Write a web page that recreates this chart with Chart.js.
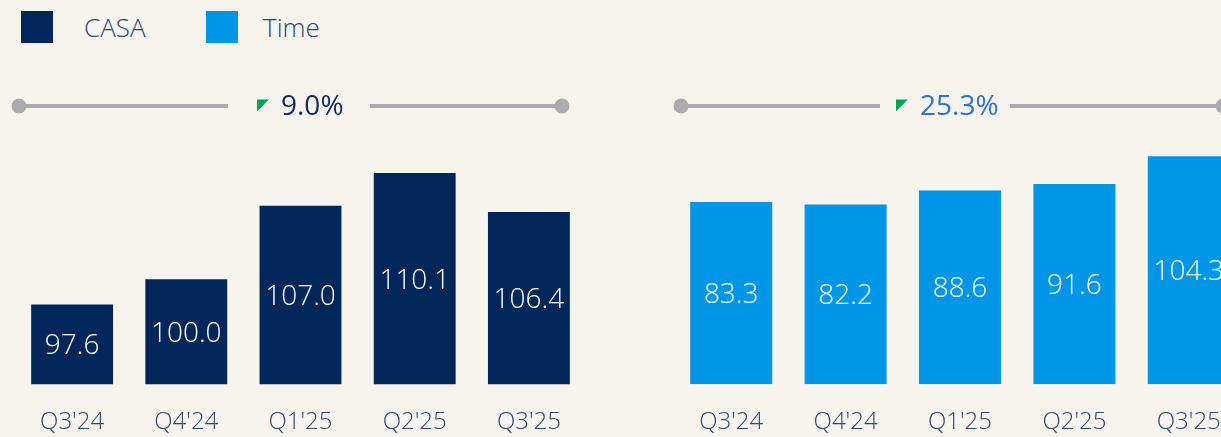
<!DOCTYPE html>
<html>
<head>
<meta charset="utf-8">
<script src="https://cdn.jsdelivr.net/npm/chart.js@4"></script>
<style>
  html, body { margin: 0; padding: 0; background: #f7f4ee; overflow: hidden; }
  body { width: 1221px; height: 437px; position: relative; font-family: "Open Sans", sans-serif; }
  .box { position: absolute; top: 11px; width: 32px; height: 32px; }
  .txt { position: absolute; top: 9px; font-size: 26px; font-weight: 300; color: #2c4a74; line-height: 36px; }
  .wrap { position: absolute; top: 0; width: 600px; height: 462px; }
</style>
</head>
<body>
<span class="box" style="left:21px;background:#01265a"></span><span class="txt" style="left:84px">CASA</span>
<span class="box" style="left:206px;background:#0096e8"></span><span class="txt" style="left:263px">Time</span>
<div class="wrap" style="left:0"><canvas id="casaChart" width="600" height="462"></canvas></div>
<div class="wrap" style="left:660px"><canvas id="timeChart" width="600" height="462"></canvas></div>
<script>
var quarters = ["Q3'24", "Q4'24", "Q1'25", "Q2'25", "Q3'25"];
var casaValues = [97.6, 100.0, 107.0, 110.1, 106.4];
var timeValues = [83.3, 82.2, 88.6, 91.6, 104.3];
var growthLabels = ['9.0%', '25.3%'];

// white value labels in the middle of each bar
var barValues = {
  id: 'barValues',
  afterDatasetsDraw: function(chart) {
    var ctx = chart.ctx;
    var meta = chart.getDatasetMeta(0);
    var bottom = chart.chartArea.bottom;
    ctx.save();
    ctx.fillStyle = '#ffffff';
    ctx.font = '300 28px "Open Sans"';
    ctx.textAlign = 'center';
    ctx.textBaseline = 'middle';
    meta.data.forEach(function(bar, i) {
      var v = chart.data.datasets[0].data[i];
      var base = Math.min(bar.base, bottom);
      ctx.fillText(v.toFixed(1), bar.x, (bar.y + base) / 2 + 2);
    });
    ctx.restore();
  }
};

// grey growth line with a label in the gap
var growthLine = {
  id: 'growthLine',
  afterDraw: function(chart, args, opts) {
    var ctx = chart.ctx;
    var y = 106;
    ctx.save();
    ctx.strokeStyle = '#ababab';
    ctx.fillStyle = '#ababab';
    ctx.lineWidth = 4;
    ctx.beginPath();
    ctx.moveTo(opts.x1, y); ctx.lineTo(opts.gap1, y);
    ctx.moveTo(opts.gap2, y); ctx.lineTo(opts.x2, y);
    ctx.stroke();
    [opts.x1, opts.x2].forEach(function(x) {
      ctx.beginPath();
      ctx.arc(x, y, 7.5, 0, Math.PI * 2);
      ctx.fill();
    });
    // green arrow corner
    var tx = opts.tri;
    ctx.fillStyle = '#00a651';
    ctx.beginPath();
    ctx.moveTo(tx, 99.5); ctx.lineTo(tx + 12, 99.5); ctx.lineTo(tx, 111.5);
    ctx.closePath();
    ctx.fill();
    ctx.fillStyle = opts.color;
    ctx.font = '28px "Open Sans"';
    ctx.textAlign = 'left';
    ctx.textBaseline = 'middle';
    ctx.fillText(opts.text, tx + 24, y + 1);
    ctx.restore();
  }
};

function makeChart(id, values, color, yMin, yMax, padLeft, growth) {
  return new Chart(document.getElementById(id), {
    type: 'bar',
    data: {
      labels: quarters,
      datasets: [{
        data: values,
        backgroundColor: color,
        borderWidth: 0,
        categoryPercentage: 1,
        barPercentage: 0.717
      }]
    },
    options: {
      responsive: false,
      animation: false,
      layout: { padding: { left: padLeft, right: 14, top: 140, bottom: 1 } },
      plugins: {
        legend: { display: false },
        tooltip: { enabled: false },
        growthLine: growth
      },
      scales: {
        x: {
          grid: { display: false, drawTicks: false },
          border: { display: false },
          ticks: { color: '#2c4a74', padding: 24, font: { family: 'Open Sans', size: 24, weight: 300 } }
        },
        y: { display: false, min: yMin, max: yMax }
      }
    },
    plugins: [barValues, growthLine]
  });
}

makeChart('casaChart', casaValues, '#01265a', 90, 113.25, 15,
  { x1: 19, x2: 562, gap1: 228, gap2: 370, tri: 257, text: growthLabels[0], color: '#0f2a5c' });
makeChart('timeChart', timeValues, '#0096e8', 0, 111.7, 14,
  { x1: 21, x2: 563, gap1: 220, gap2: 350, tri: 236, text: growthLabels[1], color: '#2e72d2' });
</script>
</body>
</html>
